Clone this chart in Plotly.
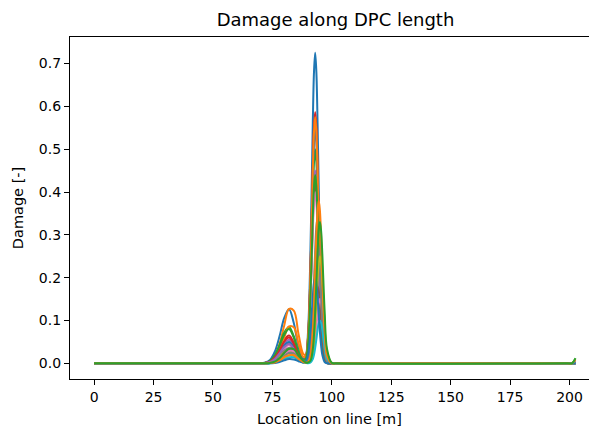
import plotly.graph_objects as go

# Location on line [m] (shared sample positions)
location = [0, 70, 72, 74, 76, 78, 80, 82, 84, 86, 88, 89, 90, 91, 92, 92.5, 93, 93.5,
            94, 94.5, 95, 95.5, 96, 97, 98, 100, 102, 199, 201, 202.5]

# Damage [-] per case
damage_00 = [0, 0, .002, .008, .027, .063, .106, .126, .094, .039, .010, .016, .074, .261, .562, .680, .725, .680, .562, .408, .261, .147, .073, .012, .002, 0, 0, 0, 0, 0]
damage_01 = [0, 0, .001, .004, .016, .045, .089, .127, .123, .068, .022, .019, .062, .209, .448, .542, .578, .542, .448, .325, .208, .117, .058, .010, .001, 0, 0, 0, 0, 0]
damage_02 = [0, 0, .001, .005, .018, .043, .072, .085, .063, .026, .007, .011, .051, .180, .388, .469, .500, .469, .388, .282, .180, .102, .051, .009, .001, 0, 0, 0, 0, 0]
damage_03 = [0, 0, .001, .004, .014, .033, .055, .065, .048, .020, .006, .012, .060, .211, .455, .551, .587, .551, .455, .330, .211, .119, .059, .010, .001, 0, 0, 0, 0, 0]
damage_04 = [0, 0, .001, .004, .012, .028, .046, .055, .041, .017, .005, .009, .046, .162, .349, .422, .450, .422, .349, .253, .162, .091, .046, .008, .001, 0, 0, 0, 0, 0]
damage_05 = [0, 0, .001, .003, .010, .024, .040, .048, .036, .015, .004, .008, .043, .151, .326, .394, .420, .394, .326, .236, .151, .085, .042, .007, .001, 0, 0, 0, 0, 0]
damage_06 = [0, 0, .001, .003, .009, .021, .035, .042, .031, .013, .004, .008, .041, .144, .310, .375, .400, .375, .310, .225, .144, .081, .040, .007, .001, 0, 0, 0, 0, 0]
damage_07 = [0, 0, 0, .002, .008, .018, .030, .036, .027, .011, .003, .002, .006, .035, .122, .191, .264, .319, .340, .319, .264, .191, .122, .034, .006, 0, 0, 0, 0, 0]
damage_08 = [0, 0, 0, .002, .006, .015, .025, .030, .022, .009, .002, .001, .005, .030, .108, .169, .233, .281, .300, .281, .233, .169, .108, .030, .005, 0, 0, 0, 0, 0]
damage_09 = [0, 0, 0, .002, .005, .012, .020, .024, .018, .007, .002, .001, .003, .016, .058, .090, .124, .150, .160, .150, .124, .090, .058, .016, .003, 0, 0, 0, 0, 0]
damage_10 = [0, 0, .001, .003, .011, .025, .042, .050, .037, .015, .005, .011, .056, .198, .426, .516, .550, .516, .426, .310, .198, .112, .056, .009, .001, 0, 0, 0, 0, 0]
damage_11 = [0, 0, .001, .003, .011, .031, .061, .086, .084, .046, .015, .016, .061, .208, .446, .539, .575, .539, .446, .324, .207, .117, .058, .010, .001, 0, 0, 0, 0, 0]
damage_12 = [0, 0, .001, .005, .017, .040, .067, .080, .060, .025, .006, .010, .045, .158, .341, .413, .440, .413, .341, .248, .158, .089, .044, .008, .001, 0, 0, 0, 0, 0]
damage_13 = [0, 0, .001, .004, .013, .030, .051, .060, .045, .018, .004, .002, .005, .026, .094, .146, .202, .244, .260, .244, .202, .146, .094, .026, .004, 0, 0, 0, 0, 0]
damage_14 = [0, 0, .001, .003, .010, .023, .038, .045, .034, .014, .003, .002, .004, .022, .079, .124, .171, .206, .220, .206, .171, .124, .079, .022, .004, 0, 0, 0, 0, .006]
damage_15 = [0, 0, 0, .001, .004, .012, .024, .034, .033, .018, .006, .003, .004, .019, .065, .101, .140, .169, .180, .169, .140, .101, .065, .018, .003, 0, 0, 0, 0, 0]
damage_16 = [0, 0, 0, .001, .004, .010, .020, .029, .028, .015, .005, .002, .001, .003, .015, .030, .054, .084, .116, .141, .150, .141, .116, .054, .015, 0, 0, 0, 0, 0]
damage_17 = [0, 0, 0, .001, .003, .009, .017, .024, .023, .013, .004, .002, .005, .029, .101, .158, .217, .263, .280, .263, .217, .158, .101, .028, .005, 0, 0, 0, 0, 0]
damage_18 = [0, 0, 0, .001, .002, .007, .014, .019, .019, .010, .003, .001, .001, .004, .025, .051, .090, .141, .194, .234, .250, .234, .194, .090, .025, .001, 0, 0, 0, .010]
damage_19 = [0, 0, 0, 0, .002, .005, .010, .014, .014, .008, .002, .001, 0, .002, .010, .020, .036, .056, .078, .094, .100, .094, .078, .036, .010, 0, 0, 0, 0, 0]
damage_20 = [0, 0, 0, 0, .001, .003, .007, .010, .009, .005, .002, .004, .020, .072, .155, .188, .200, .188, .155, .113, .072, .041, .020, .003, 0, 0, 0, 0, 0, 0]
damage_21 = [0, 0, 0, .001, .002, .007, .014, .019, .019, .010, .003, .002, .003, .017, .077, .137, .214, .295, .356, .380, .356, .295, .214, .077, .017, 0, 0, 0, 0, .008]
damage_22 = [0, 0, 0, .001, .004, .012, .024, .034, .033, .018, .006, .002, .002, .006, .033, .067, .119, .186, .256, .309, .330, .309, .256, .119, .033, .001, 0, 0, 0, .012]

cases = [damage_00, damage_01, damage_02, damage_03, damage_04, damage_05, damage_06,
         damage_07, damage_08, damage_09, damage_10, damage_11, damage_12, damage_13,
         damage_14, damage_15, damage_16, damage_17, damage_18, damage_19, damage_20,
         damage_21, damage_22]

x_ticks = [0, 25, 50, 75, 100, 125, 150, 175, 200]
y_ticks = [0.0, 0.1, 0.2, 0.3, 0.4, 0.5, 0.6, 0.7]

palette = ["#1f77b4", "#ff7f0e", "#2ca02c", "#d62728", "#9467bd",
           "#8c564b", "#e377c2", "#7f7f7f", "#bcbd22", "#17becf"]

FONT = "DejaVu Sans"

fig = go.Figure()
for i, ys in enumerate(cases):
    fig.add_trace(go.Scatter(
        x=location, y=ys, mode="lines",
        line=dict(color=palette[i % 10], width=2, shape="spline", smoothing=1.0),
        hoverinfo="skip", showlegend=False))

fig.update_layout(
    width=589, height=427,
    margin=dict(l=70, r=0, t=37, b=48),
    plot_bgcolor="white", paper_bgcolor="white",
    font=dict(family=FONT, color="black", size=14),
    title=dict(text="Damage along DPC length", xref="container", x=0.5696,
               xanchor="center", yref="container", y=0.953, yanchor="middle",
               font=dict(family=FONT, size=18, color="black")),
    showlegend=False,
)
fig.update_xaxes(
    range=[-10.15, 208.2], tickvals=x_ticks, ticktext=[str(v) for v in x_ticks],
    showgrid=False, zeroline=False, showline=True, linecolor="black", linewidth=1.2,
    mirror=True, ticks="outside", ticklen=5, tickwidth=1.2, tickcolor="black",
    tickfont=dict(family=FONT, size=14, color="black"),
    title=dict(text="Location on line [m]", font=dict(family=FONT, size=14.5, color="black"), standoff=9),
)
fig.update_yaxes(
    range=[-0.0366, 0.762], tickvals=y_ticks, ticktext=[f"{v:.1f}" for v in y_ticks],
    showgrid=False, zeroline=False, showline=True, linecolor="black", linewidth=1.2,
    mirror=False, ticks="outside", ticklen=5, tickwidth=1.2, tickcolor="black",
    tickfont=dict(family=FONT, size=14, color="black"),
    title=dict(text="Damage [-]", font=dict(family=FONT, size=14.5, color="black"), standoff=11),
)

fig.write_html("out.html")
